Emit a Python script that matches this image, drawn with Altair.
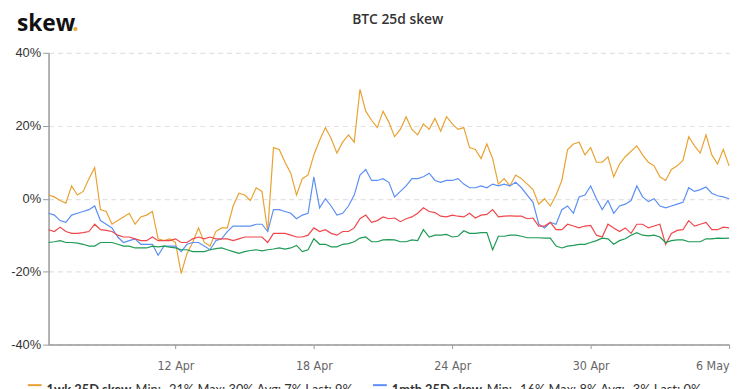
import altair as alt
import pandas as pd

# ---- data (6-hourly samples from 6 Apr 12:00 to 6 May 00:00) ----
start = "2020-04-06 12:00"
n_points = 119

series_names = ["1wk 25D skew", "1mth 25D skew", "3mth 25D skew", "6mth 25D skew"]
series_colors = ["#E9A232", "#5B8FF5", "#F0474B", "#1E9A55"]

wk1 = [1, 0.5, -0.5, -1.2, 3.5, 1, 2, 5.5, 8.5, -3,
       -3.5, -7, -6, -5, -4, -7, -5, -4.5, -3.5, -11,
       -11.5, -11, -12, -20.5, -15, -12, -8, -12, -13, -9,
       -8, -8, -2, 1.5, 1, -0.5, 3, 2, -9, 14,
       13.5, 10, 7, 1, 5.5, 6.5, 12, 16, 19.5, 16.5,
       12.5, 15.5, 17.5, 15.5, 30, 24, 21.5, 19.5, 24, 21,
       17, 19, 22.5, 19, 17.5, 20.5, 19, 22, 18.5, 22.5,
       20.5, 19, 19.5, 14, 13.5, 11, 15, 11, 4, 5.5,
       3.5, 6.5, 5.5, 4, 2.5, -1.5, 0, -2, 1, 5,
       13.5, 15, 15.5, 12, 14, 10, 10, 11.5, 6, 9.5,
       11.5, 13, 14.5, 12, 10, 9, 6, 5, 8, 9,
       10.5, 17, 14.5, 12.5, 17.5, 12, 9.5, 13.5, 9]

mth1 = [-4, -4.5, -6, -6.5, -4.5, -4, -3.5, -3, -2, -6,
        -7, -8, -10.5, -12, -11.5, -11, -12.5, -12.5, -12.5, -15.5,
        -13, -13, -13, -14.5, -12.5, -12, -12, -13, -14, -11.5,
        -11, -9, -7.5, -7.5, -7.5, -7.5, -7, -7, -9, -3,
        -3, -3.5, -4, -5.5, -4.5, -4, 6, -2.5, 0, -2,
        -4.5, -4, -2, 1, 6.5, 8, 5, 5, 5.5, 4.5,
        0.5, 2, 3.5, 5.5, 5.5, 6, 7, 5, 4.5, 5,
        5, 5.5, 4, 3, 3, 3.5, 3, 4, 3.5, 4,
        3.5, 4.5, 3, 1, -1, -7, -8, -6.5, -7, -3,
        -2, -4, 0.5, 1, 3.5, 0, -3, -0.5, -4, -2,
        -1.5, -0.5, 3.5, 0.5, -0.8, 0, -2, -2.5, -2, -1.5,
        -1, 3, 2, 2.5, 3.2, 1.5, 0.8, 0.5, 0]

mth3 = [-8.5, -9, -7.8, -9, -9.5, -9.5, -9.3, -9, -7, -8.5,
        -8.7, -9, -10, -10.5, -10.5, -11, -11.5, -11.5, -10.5, -11.5,
        -11.5, -11.5, -11, -12, -12, -11, -10.5, -11, -10.5, -11,
        -11, -11, -11.5, -11, -10.5, -10.5, -10.5, -10.5, -12, -9.5,
        -9.5, -9.5, -10, -10.5, -10.5, -10, -8, -9, -8.5, -9.5,
        -10, -9, -9, -8, -5.5, -4.5, -6.5, -6, -5, -5.5,
        -5.3, -6.3, -5.5, -5, -4, -2.5, -3.5, -3.8, -4.8, -5,
        -4.5, -4.8, -5, -4, -5.3, -4.5, -4.3, -3, -5, -4.8,
        -4.7, -4.8, -4.8, -5.5, -5.3, -7.5, -7.5, -6.5, -8.5, -8.5,
        -7, -7.5, -8, -7.5, -7.3, -10, -10.5, -7, -8, -9,
        -8, -9.5, -7, -7, -8, -7.5, -7, -12.5, -9.5, -8.7,
        -8.5, -6, -7.5, -7, -6.5, -8.5, -8.5, -7.8, -8]

mth6 = [-12, -11.8, -11.5, -12, -12, -12.2, -12.5, -13, -13, -12,
        -12, -12, -12.5, -13, -13, -13.5, -13.5, -13.5, -13, -13.2,
        -13, -13.3, -13.5, -14, -14, -14.5, -14.5, -14.5, -14, -13.7,
        -13.5, -14, -14.5, -15, -14.5, -14.2, -14, -14.3, -14, -13.8,
        -13.5, -13.8, -13.5, -12.8, -14.5, -14, -11, -12.5, -12.5, -13.2,
        -13.2, -12.5, -12.3, -11.8, -10.8, -10.5, -11.8, -11.8, -11.3, -11.2,
        -11.3, -11.8, -11.8, -11.3, -11.5, -8.5, -10.5, -10, -10, -9.8,
        -10.5, -10.3, -8.8, -9.5, -9.5, -9.3, -9.3, -14, -10.3, -10.3,
        -10, -10, -10.3, -10.7, -10.7, -10.7, -10.8, -10.8, -13, -13.5,
        -13, -12.8, -12.5, -12.5, -12, -11.5, -10.8, -11, -12.5, -11.5,
        -11, -10, -9.3, -10, -10.2, -10, -10.5, -12, -11.5, -11.3,
        -11.3, -11.8, -11.8, -11.8, -11, -11, -10.8, -10.9, -10.8]

legend_stats = ["Min: -21%  Max: 30%  Avg: 7%  Last: 9%",
                "Min: -16%  Max: 8%  Avg: -3%  Last: 0%",
                "Min: -13%  Max: -3%  Avg: -8%  Last: -8%",
                "Min: -15%  Max: -9%  Avg: -12%  Last: -11%"]

y_ticks = [-40, -20, 0, 20, 40]

# ---- build table ----
times = pd.date_range(start, periods=n_points, freq="6h").strftime("%Y-%m-%dT%H:%M:%S")
frames = []
for k, (name, vals) in enumerate(zip(series_names, [wk1, mth1, mth3, mth6])):
    frames.append(pd.DataFrame({"time": times, "value": vals, "series": name, "order": k}))
df = pd.concat(frames, ignore_index=True)

W, H = 688, 295

x_axis = alt.Axis(
    values=[alt.DateTime(year=2020, month=4, date=d) for d in (12, 18, 24, 30)]
    + [alt.DateTime(year=2020, month=5, date=6)],
    format="%-d %b", title=None, grid=False,
    domainColor="#999", domainWidth=1.5, tickColor="#999", tickSize=4,
    labelFont="Liberation Sans Narrow, DejaVu Sans Condensed, sans-serif",
    labelFontSize=12.5, labelColor="#666", labelPadding=11,
)
y_axis = alt.Axis(
    values=y_ticks, labelExpr="datum.value + '%'", title=None,
    grid=True, gridColor="#e2e2e2", gridDash=[5, 4], gridWidth=1.2,
    domainColor="#999", domainWidth=1.5, tickColor="#999", tickSize=6,
    labelFont="Liberation Sans", labelFontSize=13, labelColor="#333", labelPadding=2,
)

lines = alt.Chart(df).mark_line(strokeWidth=1.2).encode(
    x=alt.X("time:T",
            scale=alt.Scale(domain=[alt.DateTime(year=2020, month=4, date=6, hours=12),
                                    alt.DateTime(year=2020, month=5, date=6)]),
            axis=x_axis),
    y=alt.Y("value:Q", scale=alt.Scale(domain=[-40, 40]), axis=y_axis),
    color=alt.Color("series:N", scale=alt.Scale(domain=series_names, range=series_colors), legend=None),
    order="order:Q",
)

one = pd.DataFrame({"a": [0]})

title = alt.Chart(one).mark_text(
    text="BTC 25d skew", font="Open Sans", fontSize=14, fontWeight=600, color="#333",
    align="center", baseline="alphabetic",
).encode(x=alt.value(353), y=alt.value(-29))

logo = alt.Chart(one).mark_text(
    text="skew", font="Open Sans", fontSize=23, fontWeight="bold", color="#111",
    align="left", baseline="alphabetic",
).encode(x=alt.value(-32), y=alt.value(-22))

logo_dot = alt.Chart(one).mark_text(
    text=".", font="Open Sans", fontSize=23, fontWeight="bold", color="#F0A830",
    align="left", baseline="alphabetic",
).encode(x=alt.value(24), y=alt.value(-22))

layers = [lines, title, logo, logo_dot]

legend_pos = [(-21, 336), (328, 336), (-21, 356), (328, 356)]
name_w = [90, 96, 96, 96]
for k, (px, py) in enumerate(legend_pos):
    sw = alt.Chart(one).mark_rule(color=series_colors[k], strokeWidth=2).encode(
        x=alt.value(px), x2=alt.value(px + 14), y=alt.value(py))
    nm = alt.Chart(one).mark_text(
        text=series_names[k], font="Lato", fontSize=13, fontWeight="bold", color="#333",
        align="left", baseline="middle").encode(x=alt.value(px + 19), y=alt.value(py + 5))
    st = alt.Chart(one).mark_text(
        text=legend_stats[k], font="Lato", fontSize=13, color="#333",
        align="left", baseline="middle").encode(x=alt.value(px + 19 + name_w[k]), y=alt.value(py + 5))
    layers += [sw, nm, st]

chart = alt.layer(*layers).properties(
    width=W, height=H,
    autosize=alt.AutoSizeParams(type="none"),
    padding={"left": 41, "top": 43, "right": 8, "bottom": 80},
).configure_view(stroke=None)

chart.save("out.html", embed_options={"renderer": "svg", "actions": False})
